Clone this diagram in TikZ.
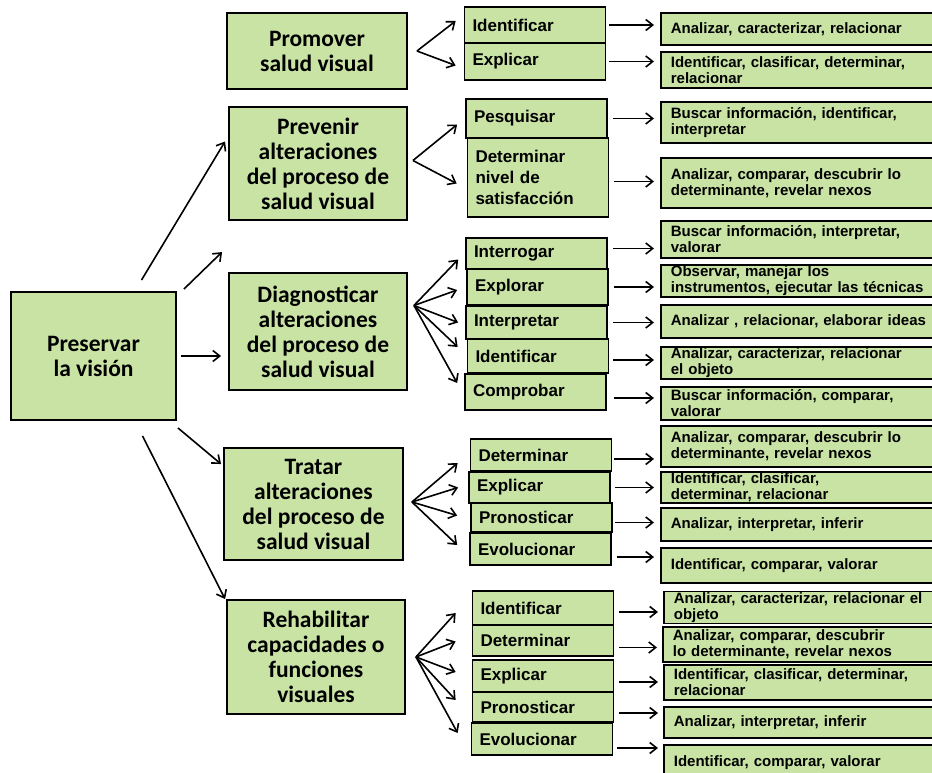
\documentclass[tikz,border=0pt]{standalone}
\usepackage{fontspec}
\setmainfont{Liberation Sans}
\newfontfamily\calibrifont{Carlito}
\usetikzlibrary{arrows.meta}

\definecolor{boxgreen}{RGB}{200,227,164}

\tikzset{
  main/.style={draw=black, line width=1.9pt, fill=boxgreen, align=center, inner sep=2pt,
    font=\calibrifont\bfseries\fontsize{23.5}{25}\selectfont},
  verb/.style={draw=black, line width=1.7pt, fill=boxgreen, align=left, text width=125pt,
    inner xsep=8pt, inner ysep=1pt, font=\bfseries\fontsize{17}{21}\selectfont},
  task/.style={draw=black, line width=1.7pt, fill=boxgreen, align=left, anchor=west, text width=260pt,
    inner xsep=10pt, inner ysep=1pt, font=\bfseries\fontsize{15}{16}\selectfont},
}

\begin{document}
\begin{tikzpicture}[x=1pt,y=-1pt,->,>={Straight Barb[length=7pt,width=11pt]},line width=1.6pt]
\useasboundingbox (0,0) rectangle (932,773);

% objetivos
\node[main,minimum width=165pt,minimum height=128pt] (root) at (93.5,356) {Preservar\\la visión};
\node[main,minimum width=180pt,minimum height=76pt] (prom) at (317,51) {Promover\\salud visual};
\node[main,minimum width=178pt,minimum height=113pt] (prev) at (318,163.5) {Prevenir\\alteraciones\\del proceso de\\salud visual};
\node[main,minimum width=178pt,minimum height=117pt] (diag) at (318,331.5) {Diagnosticar\\alteraciones\\del proceso de\\salud visual};
\node[main,minimum width=179pt,minimum height=112pt] (trat) at (313.5,504) {Tratar\\alteraciones\\del proceso de\\salud visual};
\node[main,minimum width=178pt,minimum height=114pt] (reha) at (316,657) {Rehabilitar\\capacidades o\\funciones\\visuales};

% acciones
\node[verb,minimum height=36pt] (v11) at (535,25) {Identificar};
\node[verb,minimum height=37pt] (v12) at (535,61.5) {Explicar};
\node[verb,minimum height=39pt] (v21) at (536.5,118.5) {Pesquisar};
\node[verb,minimum height=79pt] (v22) at (538,177.5) {Determinar\\nivel de\\satisfacción};
\node[verb,minimum height=31pt] (v31) at (536.5,253.5) {Interrogar};
\node[verb,minimum height=36pt] (v32) at (537.5,287) {Explorar};
\node[verb,minimum height=33pt] (v33) at (536.5,322.5) {Interpretar};
\node[verb,minimum height=34pt] (v34) at (538,356) {Identificar};
\node[verb,minimum height=36pt] (v35) at (535.5,392) {Comprobar};
\node[verb,minimum height=32pt] (v41) at (541,455) {Determinar};
\node[verb,minimum height=31pt] (v42) at (539.5,487.5) {Explicar};
\node[verb,minimum height=29pt] (v43) at (541.5,517.5) {Pronosticar};
\node[verb,minimum height=32pt] (v44) at (540.5,549) {Evolucionar};
\node[verb,minimum height=34pt] (v51) at (543,608) {Identificar};
\node[verb,minimum height=31pt] (v52) at (543,640.5) {Determinar};
\node[verb,minimum height=32pt] (v53) at (543,676) {Explicar};
\node[verb,minimum height=30pt] (v54) at (543,707) {Pronosticar};
\node[verb,minimum height=32pt] (v55) at (542,739) {Evolucionar};

% operaciones
\node[task,minimum height=32pt] (a11) at (660,29) {Analizar, caracterizar, relacionar};
\node[task,minimum height=36pt] (a12) at (660,70) {Identificar, clasificar, determinar,\\relacionar};
\node[task,minimum height=41pt] (a21) at (660,122.5) {Buscar información, identificar,\\interpretar};
\node[task,minimum height=50pt] (a22) at (660,183) {Analizar,  comparar, descubrir lo\\determinante, revelar nexos};
\node[task,minimum height=37pt] (a31) at (660,239.5) {Buscar información, interpretar,\\valorar};
\node[task,minimum height=32pt] (a32) at (660,281) {Observar,  manejar los\\instrumentos, ejecutar las técnicas};
\node[task,minimum height=33pt] (a33) at (660,321.5) {Analizar , relacionar, elaborar ideas};
\node[task,minimum height=32pt] (a34) at (660,363) {Analizar, caracterizar, relacionar\\el objeto};
\node[task,minimum height=33pt] (a35) at (660,403.5) {Buscar información, comparar,\\valorar};
\node[task,minimum height=41pt] (a41) at (660,446.5) {Analizar,  comparar, descubrir lo\\determinante, revelar nexos};
\node[task,minimum height=31pt] (a42) at (660,487.5) {Identificar,  clasificar,\\determinar,  relacionar};
\node[task,minimum height=33pt] (a43) at (660,524.5) {Analizar, interpretar, inferir};
\node[task,minimum height=35pt] (a44) at (660,565.5) {Identificar,  comparar,  valorar};
\node[task,minimum height=31pt] (a51) at (663,607.5) {Analizar, caracterizar, relacionar el\\objeto};
\node[task,minimum height=35pt] (a52) at (662,644.5) {Analizar,  comparar,  descubrir\\lo determinante,  revelar nexos};
\node[task,minimum height=35pt] (a53) at (663,682.5) {Identificar, clasificar, determinar,\\relacionar};
\node[task,minimum height=31pt] (a54) at (663,722.5) {Analizar, interpretar, inferir};
\node[task,minimum height=35pt] (a55) at (663,762.5) {Identificar, comparar, valorar};

% desde la raiz
\path ([xshift=48pt,yshift=11pt]root.north) edge ([xshift=-3pt,yshift=22pt]prev.west)
([xshift=7pt,yshift=2pt]root.north east) edge ([xshift=-6pt,yshift=20pt]diag.north west)
([xshift=4pt]root.east) edge ([xshift=-7pt]diag.west |- root.east)
([xshift=1pt,yshift=-7pt]root.south east) edge ([xshift=-2pt,yshift=-17pt]trat.north west)
([xshift=49pt,yshift=-15pt]root.south) edge ([xshift=-1pt]reha.north west);

% abanicos
\coordinate (fprom) at ([xshift=9pt]prom.east);
\coordinate (fprev) at ([xshift=5pt,yshift=3pt]prev.east);
\coordinate (fdiag) at ([xshift=6pt,yshift=26pt]diag.east);
\coordinate (ftrat) at ([xshift=8pt,yshift=2pt]trat.east);
\coordinate (freha) at ([xshift=10pt]reha.east);
\path (fprom) edge ([xshift=-8pt,yshift=4pt]v11.west) edge ([xshift=-8pt,yshift=-4pt]v12.west);
\path (fprev) edge ([xshift=-8pt,yshift=-6pt]v21.west) edge ([xshift=-10pt,yshift=-6pt]v22.west);
\path (fdiag) edge ([xshift=-7pt,yshift=-6pt]v31.west) edge ([xshift=-9pt,yshift=-3pt]v32.west)
  edge ([xshift=-7pt]v33.west) edge ([xshift=-9pt,yshift=9pt]v34.west) edge ([xshift=-7pt,yshift=9pt]v35.west);
\path (ftrat) edge ([xshift=-12pt,yshift=-8pt]v41.west) edge ([xshift=-10pt]v42.west)
  edge ([xshift=-13pt,yshift=2pt]v43.west) edge ([xshift=-12pt,yshift=4pt]v44.west);
\path (freha) edge ([xshift=-16pt,yshift=-5pt]v51.west) edge ([xshift=-16pt,yshift=-1pt]v52.west)
  edge ([xshift=-16pt,yshift=4pt]v53.west) edge ([xshift=-16pt,yshift=7pt]v54.west) edge ([xshift=-13pt,yshift=6pt]v55.west);

% hacia las operaciones
\path ([xshift=3pt]v11.east) edge ([xshift=-6pt]v11.east -| a11.west)
([xshift=3pt]v12.east) edge ([xshift=-6pt]v12.east -| a12.west)
([xshift=5pt]v21.east) edge ([xshift=-6pt]v21.east -| a21.west)
([xshift=5pt,yshift=-4pt]v22.east) edge ([xshift=-6pt,yshift=-4pt]v22.east -| a22.west)
([xshift=5pt,yshift=5pt]v31.east) edge ([xshift=-6pt,yshift=5pt]v31.east -| a31.west)
([xshift=5pt]v32.east) edge ([xshift=-6pt]v32.east -| a32.west)
([xshift=5pt]v33.east) edge ([xshift=-6pt]v33.east -| a33.west)
([xshift=4pt,yshift=-4pt]v34.east) edge ([xshift=-6pt,yshift=-4pt]v34.east -| a34.west)
([xshift=7pt,yshift=-6pt]v35.east) edge ([xshift=-6pt,yshift=-6pt]v35.east -| a35.west)
([xshift=2pt,yshift=-4pt]v41.east) edge ([xshift=-6pt,yshift=-4pt]v41.east -| a41.west)
([xshift=4pt]v42.east) edge ([xshift=-6pt]v42.east -| a42.west)
([xshift=2pt,yshift=-5pt]v43.east) edge ([xshift=-6pt,yshift=-5pt]v43.east -| a43.west)
([xshift=5pt,yshift=-8pt]v44.east) edge ([xshift=-6pt,yshift=-8pt]v44.east -| a44.west)
([xshift=5pt,yshift=-4pt]v51.east) edge ([xshift=-5pt,yshift=-4pt]v51.east -| a51.west)
([xshift=5pt,yshift=-7pt]v52.east) edge ([xshift=-5pt,yshift=-7pt]v52.east -| a52.west)
([xshift=5pt,yshift=-6pt]v53.east) edge ([xshift=-5pt,yshift=-6pt]v53.east -| a53.west)
([xshift=5pt,yshift=-6pt]v54.east) edge ([xshift=-5pt,yshift=-6pt]v54.east -| a54.west)
([xshift=4pt,yshift=-9pt]v55.east) edge ([xshift=-5pt,yshift=-9pt]v55.east -| a55.west);
\end{tikzpicture}
\end{document}
